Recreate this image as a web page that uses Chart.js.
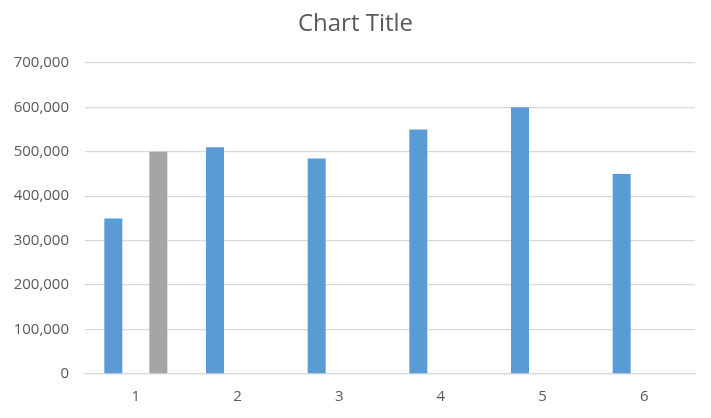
<!DOCTYPE html>
<html>
<head>
<meta charset="utf-8">
<script src="https://cdn.jsdelivr.net/npm/chart.js@4"></script>
<style>
  html, body { margin: 0; padding: 0; background: #ffffff; }
  #wrap { width: 711px; height: 418px; }
</style>
</head>
<body>
<div id="wrap"><canvas id="grafico"></canvas></div>
<script>
// Datos del gráfico
var categories = ['1', '2', '3', '4', '5', '6'];
var series1 = [350000, 510000, 485000, 550000, 600000, 450000];
var series2 = [0, 0, 0, 0, 0, 0];
var series3 = [500000, null, null, null, null, null];
var yTicks = [0, 100000, 200000, 300000, 400000, 500000, 600000, 700000];

var ctx = document.getElementById('grafico').getContext('2d');

var grafico = new Chart(ctx, {
  type: 'bar',
  data: {
    labels: categories,
    datasets: [
      { label: 'Series1', data: series1, backgroundColor: '#5b9bd5' },
      { label: 'Series2', data: series2, backgroundColor: '#ed7d31' },
      { label: 'Series3', data: series3, backgroundColor: '#a5a5a5' }
    ]
  },
  options: {
    responsive: true,
    maintainAspectRatio: false,
    animation: false,
    datasets: {
      bar: { categoryPercentage: 0.664, barPercentage: 0.8 }
    },
    layout: { padding: { left: 0, right: 0, top: 0, bottom: -1 } },
    plugins: {
      legend: { display: false },
      tooltip: { enabled: false },
      title: {
        display: true,
        text: 'Chart Title',
        color: '#595959',
        font: { family: 'Open Sans', size: 24, weight: 'normal' },
        padding: { top: 10, bottom: 24 }
      }
    },
    scales: {
      x: {
        grid: { display: false, drawTicks: false },
        border: { display: true, color: '#d9d9d9', width: 1.3 },
        ticks: { color: '#595959', padding: 15, font: { family: 'Open Sans', size: 15, lineHeight: 1 } }
      },
      y: {
        min: 0,
        max: 700000,
        afterBuildTicks: function(scale) {
          scale.ticks = yTicks.map(function(v) { return { value: v }; });
        },
        afterFit: function(scale) { scale.width = 85; },
        grid: { color: '#d9d9d9', lineWidth: 1.3, drawTicks: false },
        border: { display: false },
        ticks: {
          color: '#595959',
          padding: 16,
          font: { family: 'Open Sans', size: 15 },
          callback: function(v) { return v.toLocaleString('en-US'); }
        }
      },
      // margen derecho vacío
      yRight: {
        position: 'right',
        display: true,
        grid: { display: false, drawTicks: false },
        border: { display: false },
        ticks: { display: false },
        afterFit: function(scale) { scale.width = 16; }
      }
    }
  }
});
</script>
</body>
</html>
